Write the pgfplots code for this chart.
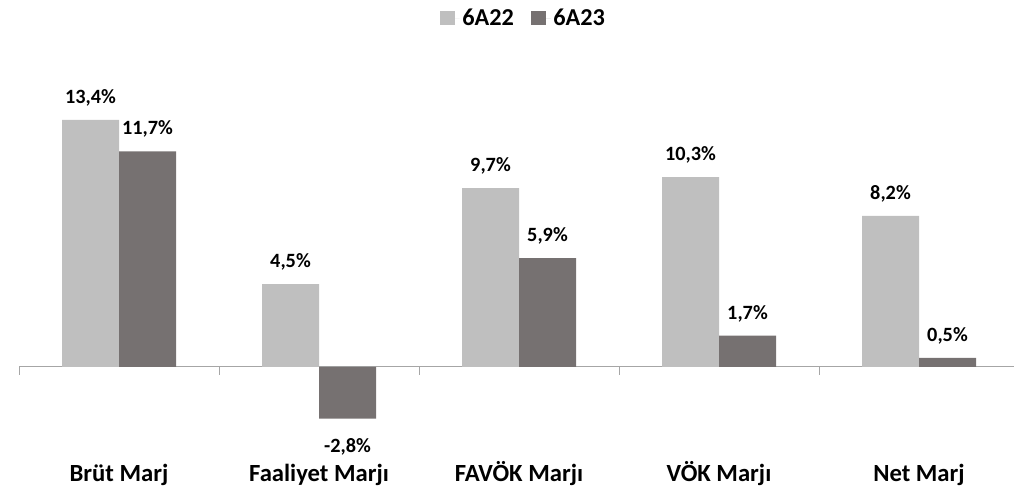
\documentclass[border=0pt]{standalone}
\usepackage{fontspec}
\setmainfont{Carlito}
\usepackage{pgfplots}
\pgfplotsset{compat=1.18}
\definecolor{lightbar}{HTML}{BFBFBF}
\definecolor{darkbar}{HTML}{767171}
\definecolor{axisgray}{HTML}{A6A6A6}
\begin{document}
\begin{tikzpicture}
\useasboundingbox (0pt,0pt) rectangle (760.5pt,366.75pt);
\begin{axis}[
 at={(14.25pt,0pt)}, anchor=south west,
 scale only axis, width=746.25pt, height=366.75pt,
 xmin=-0.5, xmax=4.475, ymin=-6.62, ymax=19.91,
 axis x line=middle, axis y line=none,
 axis line style={-, draw=axisgray, line width=0.75pt},
 hide obscured x ticks=false,
 xtick={0,1,2,3,4},
 xticklabels={Brüt Marj, Faaliyet Marjı, FAVÖK Marjı, VÖK Marjı, Net Marj},
 major tick length=0pt,
 xticklabel style={anchor=base, yshift=-86pt, font=\fontsize{18.5}{22}\selectfont\bfseries},
 ytick=\empty,
 ybar=0pt, bar width=0.285,
 nodes near coords={\pgfmathprintnumber[fixed,fixed zerofill,precision=1,use comma,assume math mode=true]{\pgfplotspointmeta}\%},
 nodes near coords align={vertical},
 every node near coord/.append style={font=\fontsize{15.2}{18}\selectfont\bfseries, inner ysep=12.5pt, yshift=-2.5pt, text=black},
 legend style={at={(0.5075,0.963)}, anchor=center, draw=none, legend columns=2, font=\fontsize{18.2}{21}\selectfont\bfseries, /tikz/every even column/.append style={column sep=11pt}},
 legend image code/.code={\fill[#1] (0pt,-5.4pt) rectangle (11.2pt,5.4pt); \path (0pt,0pt) -- (14.5pt,0pt);},
 clip=false,
]
\addplot[fill=lightbar, draw=none] coordinates {(0,13.4) (1,4.5) (2,9.7) (3,10.3) (4,8.2)};
\addplot[fill=darkbar, draw=none] coordinates {(0,11.7) (1,-2.8) (2,5.9) (3,1.7) (4,0.5)};
\legend{6A22, 6A23}
\draw[axisgray, line width=0.75pt] (axis cs:-0.5,0) -- ++(0pt,-6pt);
\draw[axisgray, line width=0.75pt] (axis cs:0.5,0) -- ++(0pt,-6pt);
\draw[axisgray, line width=0.75pt] (axis cs:1.5,0) -- ++(0pt,-6pt);
\draw[axisgray, line width=0.75pt] (axis cs:2.5,0) -- ++(0pt,-6pt);
\draw[axisgray, line width=0.75pt] (axis cs:3.5,0) -- ++(0pt,-6pt);
\end{axis}
\end{tikzpicture}
\end{document}
